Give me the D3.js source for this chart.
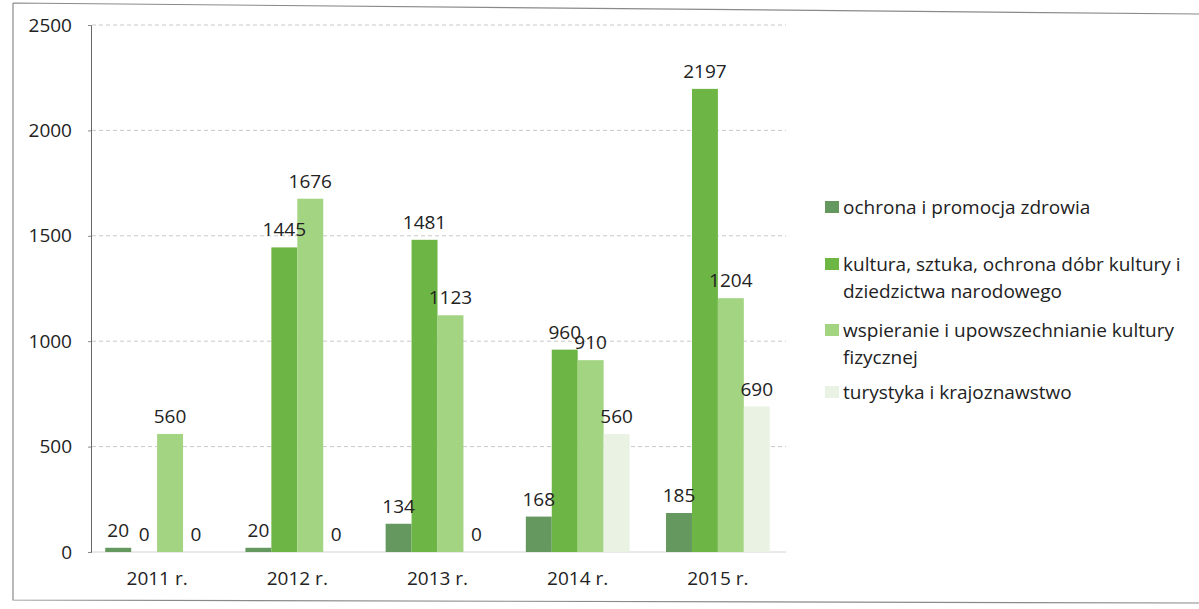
<!DOCTYPE html>
<html>
<head>
<meta charset="utf-8">
<script src="https://cdn.jsdelivr.net/npm/d3@7"></script>
<style>
  body { margin: 0; background: #ffffff; }
  svg { display: block; font-family: "Open Sans", sans-serif; }
</style>
</head>
<body>
<svg id="chart" width="1199" height="609"></svg>
<script>
// data
const years = ["2011 r.", "2012 r.", "2013 r.", "2014 r.", "2015 r."];
const seriesNames = [
  "ochrona i promocja zdrowia",
  "kultura, sztuka, ochrona dóbr kultury i dziedzictwa narodowego",
  "wspieranie i upowszechnianie kultury fizycznej",
  "turystyka i krajoznawstwo"
];
const zdrowie   = [20, 20, 134, 168, 185];
const kultura   = [0, 1445, 1481, 960, 2197];
const sport     = [560, 1676, 1123, 910, 1204];
const turystyka = [0, 0, 0, 560, 690];
const yTicks = [0, 500, 1000, 1500, 2000, 2500];

// legend lines (wrapped as in the original)
const legendLines = [
  ["ochrona i promocja zdrowia"],
  ["kultura, sztuka, ochrona dóbr kultury i", "dziedzictwa narodowego"],
  ["wspieranie i upowszechnianie kultury", "fizycznej"],
  ["turystyka i krajoznawstwo"]
];

const colors = ["#64985e", "#6db545", "#a2d482", "#e9f2e3"];
const allSeries = [zdrowie, kultura, sport, turystyka];

const svg = d3.select("#chart");

// scanned frame round the chart
svg.append("path")
  .attr("d", "M13,3 L1199,14 M13,3 L13,600 L1199,603")
  .attr("fill", "none")
  .attr("stroke", "#8a8a8a")
  .attr("stroke-width", 1.2);

const x0 = d3.scaleBand()
  .domain(years)
  .range([87, 788])
  .paddingInner(0.26)
  .paddingOuter(0.13);

const x1 = d3.scaleBand()
  .domain(d3.range(allSeries.length))
  .range([0, x0.bandwidth()]);

const y = d3.scaleLinear()
  .domain([0, 2500])
  .range([552, 25]);

// grid lines
svg.append("g")
  .selectAll("line")
  .data(yTicks.filter(d => d > 0))
  .join("line")
  .attr("x1", 92)
  .attr("x2", 786)
  .attr("y1", d => y(d))
  .attr("y2", d => y(d))
  .attr("stroke", "#c8c8c8")
  .attr("stroke-width", 1)
  .attr("stroke-dasharray", "4,3");

// baseline
svg.append("line")
  .attr("x1", 90).attr("x2", 786)
  .attr("y1", y(0)).attr("y2", y(0))
  .attr("stroke", "#d2d2d2")
  .attr("stroke-width", 1);

// y axis
const yAxis = d3.axisLeft(y)
  .tickValues(yTicks)
  .tickFormat(d3.format("d"))
  .tickSize(3)
  .tickPadding(16);
const gy = svg.append("g")
  .attr("transform", "translate(91,0)")
  .call(yAxis);
gy.select(".domain").attr("stroke", "#666").attr("stroke-width", 1);
gy.selectAll(".tick line").attr("stroke", "#888");
gy.selectAll(".tick text")
  .attr("font-size", 19)
  .attr("fill", "#222")
  .attr("font-family", "Open Sans, sans-serif");

// x labels
const xAxis = d3.axisBottom(x0).tickSize(0).tickPadding(20);
const gx = svg.append("g")
  .attr("transform", "translate(0," + y(0) + ")")
  .call(xAxis);
gx.select(".domain").remove();
gx.selectAll(".tick text")
  .attr("font-size", 19)
  .attr("fill", "#222")
  .attr("font-family", "Open Sans, sans-serif");

// bars
const groups = svg.append("g")
  .selectAll("g")
  .data(years)
  .join("g")
  .attr("transform", d => "translate(" + x0(d) + ",0)");

groups.selectAll("rect")
  .data((d, i) => allSeries.map((s, k) => ({ k: k, v: s[i] })))
  .join("rect")
  .attr("x", d => x1(d.k))
  .attr("width", x1.bandwidth())
  .attr("y", d => y(d.v))
  .attr("height", d => y(0) - y(d.v))
  .attr("fill", d => colors[d.k]);

groups.selectAll("text")
  .data((d, i) => allSeries.map((s, k) => ({ k: k, v: s[i] })))
  .join("text")
  .attr("x", d => x1(d.k) + x1.bandwidth() / 2)
  .attr("y", d => y(d.v) - 11)
  .attr("text-anchor", "middle")
  .attr("font-size", 19)
  .attr("fill", "#222")
  .text(d => d.v);

// legend
const legendY = [207, 264, 330, 392];
const leg = svg.append("g");
legendLines.forEach((lines, i) => {
  leg.append("rect")
    .attr("x", 825)
    .attr("y", legendY[i] - 6)
    .attr("width", 14)
    .attr("height", 12)
    .attr("fill", colors[i]);
  lines.forEach((t, j) => {
    leg.append("text")
      .attr("x", 843)
      .attr("y", legendY[i] + j * 27)
      .attr("dy", "0.35em")
      .attr("font-size", 19)
      .attr("fill", "#222")
      .text(t);
  });
});
</script>
</body>
</html>
